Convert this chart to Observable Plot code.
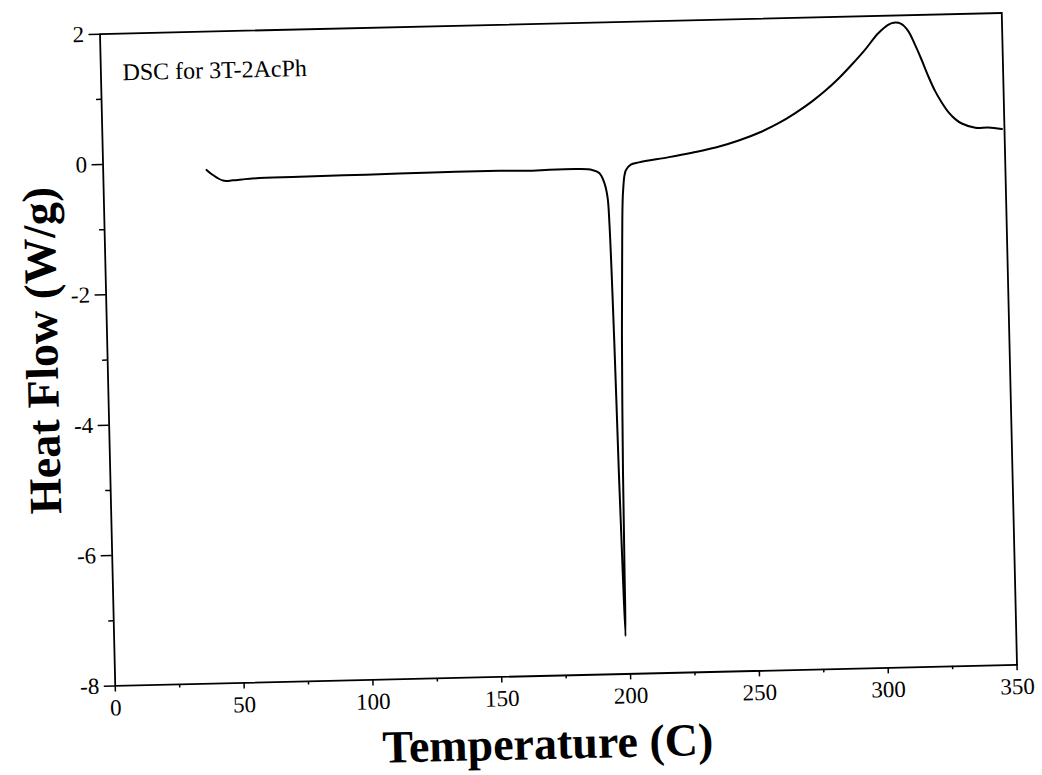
<!DOCTYPE html>
<html><head><meta charset="utf-8">
<script src="https://cdn.jsdelivr.net/npm/d3@7"></script>
<script src="https://cdn.jsdelivr.net/npm/@observablehq/plot@0.6"></script>
<style>
html,body{margin:0;padding:0;background:#fff;}
#chart{width:1042px;height:775px;overflow:hidden;}
#chart svg{display:block;transform:rotate(-1.34deg);transform-origin:557.75px 349.25px;}
</style></head><body><div id="chart"></div>
<script>
const temperature = [40.1, 42.5, 46.4, 50.2, 56.7, 76.1, 101.9, 127.8, 153.6, 166.5, 173.0, 184.6, 189.7, 192.4, 194.2, 195.4, 195.9, 196.7, 197.3, 197.9, 198.4, 198.6, 198.9, 199.7, 200.7, 201.5, 202.7, 204.7, 207.9, 219.6, 228.6, 237.8, 246.8, 255.9, 262.4, 269.0, 275.5, 280.8, 286.0, 291.3, 296.5, 301.8, 305.8, 308.0, 310.9, 313.5, 316.0, 318.4, 320.9, 323.4, 325.9, 328.4, 331.0, 333.5, 338.7, 343.8, 349.0];
const heatFlow = [-0.12, -0.20, -0.29, -0.29, -0.27, -0.26, -0.25, -0.24, -0.24, -0.25, -0.24, -0.24, -0.26, -0.31, -0.45, -0.68, -1.09, -2.88, -4.92, -6.46, -7.42, -6.46, -4.92, -2.88, -1.35, -0.59, -0.28, -0.19, -0.16, -0.09, -0.03, 0.04, 0.14, 0.27, 0.39, 0.54, 0.71, 0.87, 1.05, 1.26, 1.48, 1.73, 1.86, 1.89, 1.87, 1.76, 1.55, 1.32, 1.06, 0.83, 0.65, 0.50, 0.39, 0.32, 0.25, 0.25, 0.22];
const xTicks = [0, 50, 100, 150, 200, 250, 300, 350];
const xMinorTicks = [25, 75, 125, 175, 225, 275, 325];
const yTicks = [-8, -6, -4, -2, 0, 2];
const yMinorTicks = [-7, -5, -3, -1, 1];
const title = "DSC for 3T-2AcPh";
const xLabel = "Temperature (C)";
const yLabel = "Heat Flow (W/g)";

const data = temperature.map((t, i) => ({t, hf: heatFlow[i]}));

const chart = Plot.plot({
  width: 1042, height: 775,
  marginLeft: 107, marginRight: 33, marginTop: 23, marginBottom: 100,
  style: {fontFamily: "'Liberation Serif', 'Times New Roman', serif", background: "white", color: "black"},
  x: {domain: [0, 350]},
  y: {domain: [-8, 2]},
  marks: [
    Plot.frame({stroke: "black", strokeWidth: 1.8}),
    Plot.axisX({ticks: xTicks, tickSize: 6, tickPadding: 7, fontSize: 23, tickFormat: d => String(d), label: null, strokeWidth: 1.5}),
    Plot.axisX({ticks: xMinorTicks, tickSize: 3.5, text: null, label: null, strokeWidth: 1.5}),
    Plot.axisY({ticks: yTicks, tickSize: 11, tickPadding: 5, fontSize: 23, tickFormat: d => String(d), label: null, strokeWidth: 1.5}),
    Plot.axisY({ticks: yMinorTicks, tickSize: 5, text: null, label: null, strokeWidth: 1.5}),
    Plot.line(data, {x: "t", y: "hf", curve: "catmull-rom", stroke: "black", strokeWidth: 2}),
    Plot.text([title], {text: d => d, frameAnchor: "top-left", dx: 21.6, dy: 46.6, textAnchor: "start", lineAnchor: "bottom", fontSize: 24}),
    Plot.text([xLabel], {text: d => d, frameAnchor: "bottom", dx: -20, dy: 83, textAnchor: "middle", lineAnchor: "bottom", fontSize: 46, fontWeight: "bold"}),
    Plot.text([yLabel], {text: d => d, frameAnchor: "left", dx: -50, dy: -11, rotate: -90, textAnchor: "middle", lineAnchor: "bottom", fontSize: 46, fontWeight: "bold"})
  ]
});
document.getElementById("chart").appendChild(chart);
</script>
</body></html>
